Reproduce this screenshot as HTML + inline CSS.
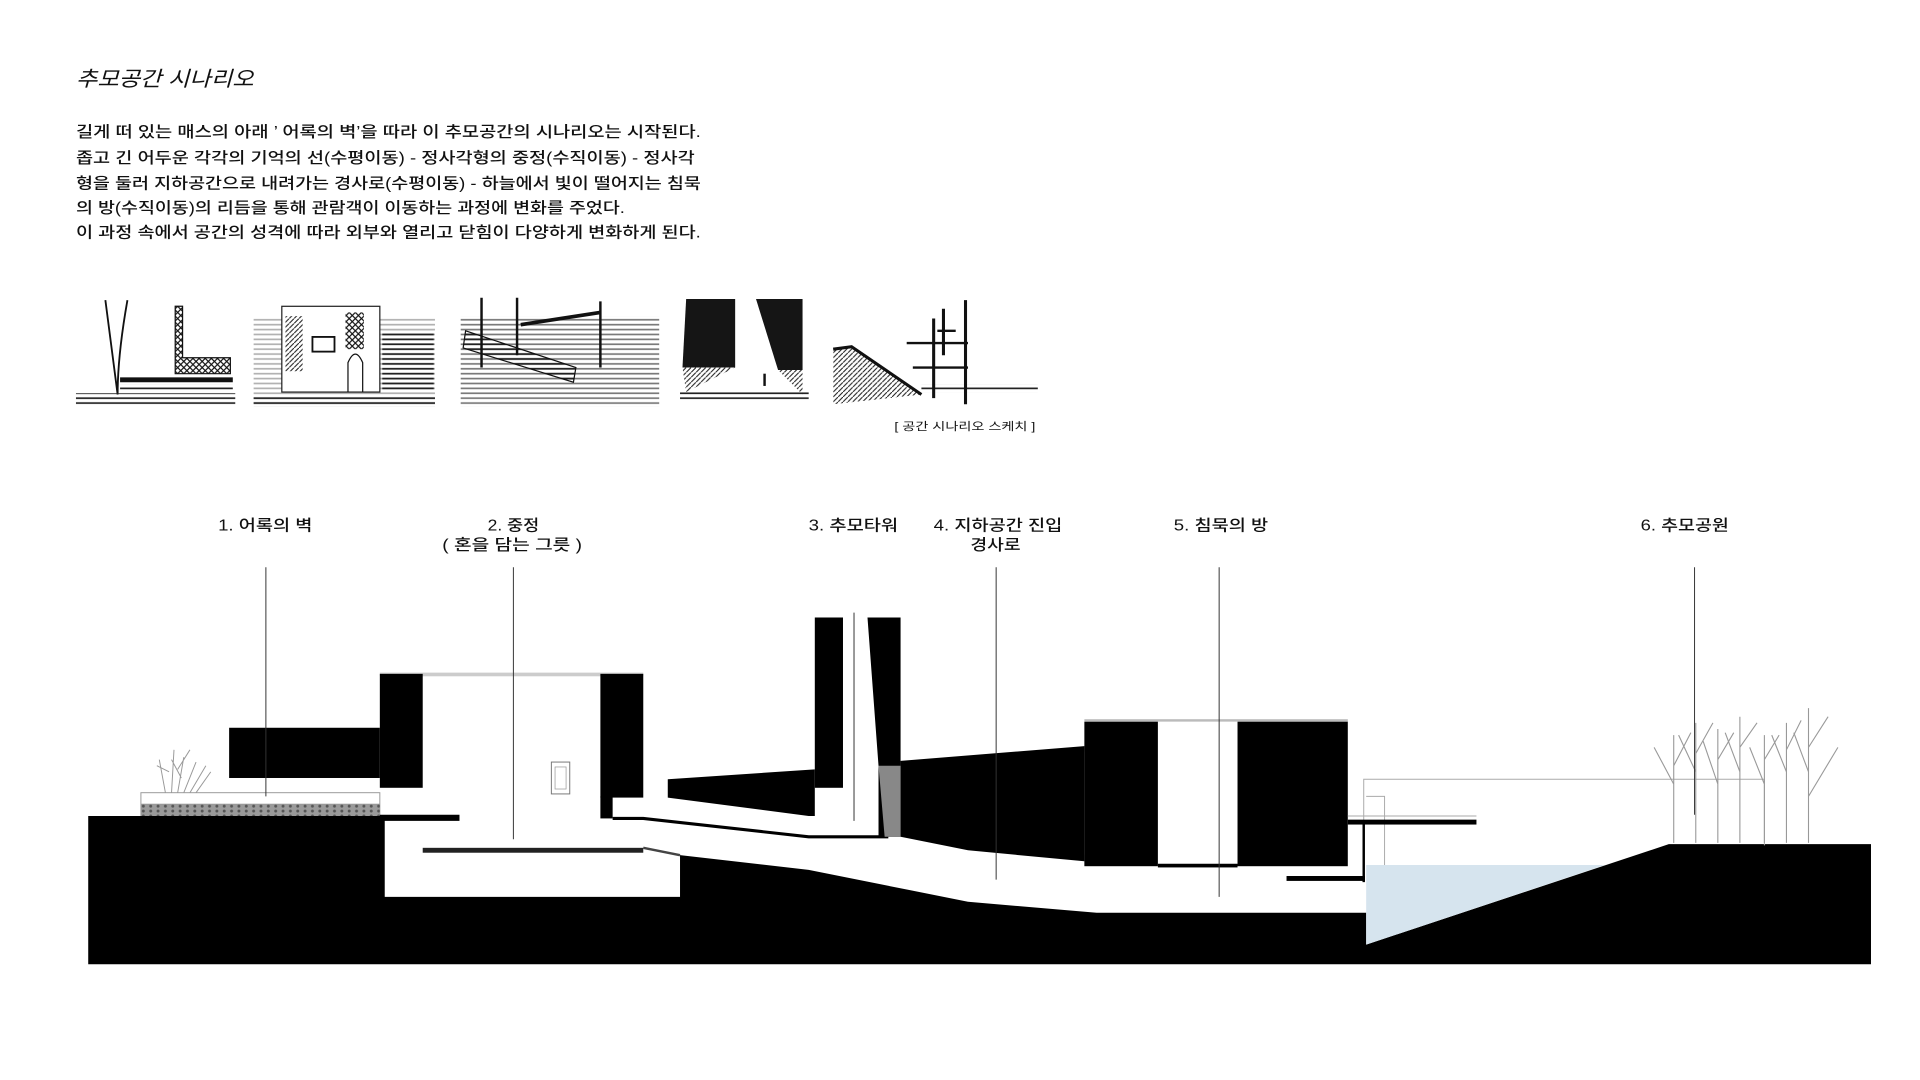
<!DOCTYPE html>
<html><head><meta charset="utf-8"><style>
html,body{margin:0;padding:0;background:#fff;width:1920px;height:1080px;overflow:hidden}
svg{display:block}
text{font-family:"Liberation Sans","Noto Sans CJK KR","NanumGothic",sans-serif;fill:#111}
</style></head><body>
<svg width="1920" height="1080" viewBox="0 0 1567 881.5" preserveAspectRatio="none" xmlns="http://www.w3.org/2000/svg">
<defs>
<pattern id="x" width="5" height="5" patternUnits="userSpaceOnUse"><path d="M0 0L5 5M5 0L0 5" stroke="#111" stroke-width="1"/></pattern>
<pattern id="h" width="4" height="4" patternUnits="userSpaceOnUse"><path d="M0 1H4" stroke="#222" stroke-width="1.4"/></pattern>
<pattern id="d" width="4" height="4" patternUnits="userSpaceOnUse"><path d="M0 4L4 0" stroke="#222" stroke-width="0.9"/></pattern>
<pattern id="g" width="6" height="4" patternUnits="userSpaceOnUse"><rect width="6" height="4" fill="#9a9a9a"/><circle cx="3" cy="2" r="1.2" fill="#555"/></pattern>
</defs>

<text x="62" y="70" font-size="17" font-style="italic" textLength="145" lengthAdjust="spacingAndGlyphs">추모공간 시나리오</text>
<g font-size="12.5" font-weight="bold" style="font-weight:500">
<text x="62" y="112" textLength="510" lengthAdjust="spacingAndGlyphs">길게 떠 있는 매스의 아래 ’ 어록의 벽’을 따라 이 추모공간의 시나리오는 시작된다.</text>
<text x="62" y="133" textLength="505" lengthAdjust="spacingAndGlyphs">좁고 긴 어두운 각각의 기억의 선(수평이동) - 정사각형의 중정(수직이동) - 정사각</text>
<text x="62" y="154" textLength="510" lengthAdjust="spacingAndGlyphs">형을 둘러 지하공간으로 내려가는 경사로(수평이동) - 하늘에서 빛이 떨어지는 침묵</text>
<text x="62" y="174" textLength="448" lengthAdjust="spacingAndGlyphs">의 방(수직이동)의 리듬을 통해 관람객이 이동하는 과정에 변화를 주었다.</text>
<text x="62" y="194" textLength="510" lengthAdjust="spacingAndGlyphs">이 과정 속에서 공간의 성격에 따라 외부와 열리고 닫힘이 다양하게 변화하게 된다.</text>
</g>

<g>
<path d="M86 245 Q92 290 96 322 M104 245 Q96 290 96 322" stroke="#111" stroke-width="1.5" fill="none"/>
<path d="M143 250 H149 V292 H188 V305 H143 Z" fill="url(#x)" stroke="#111"/>
<rect x="98" y="308" width="92" height="4" fill="#111"/>
<rect x="98" y="314" width="92" height="6" fill="url(#h)"/>
<rect x="62" y="321" width="130" height="9" fill="url(#h)"/>
<rect x="207" y="260" width="148" height="72" fill="url(#h)" opacity="0.35"/>
<rect x="230" y="250" width="80" height="70" fill="#fff" stroke="#222"/>
<rect x="233" y="258" width="14" height="45" fill="url(#d)"/>
<rect x="282" y="255" width="15" height="30" fill="url(#x)"/>
<rect x="255" y="275" width="18" height="12" fill="none" stroke="#111" stroke-width="1.5"/>
<path d="M284 320 V296 Q290 282 296 296 V320" fill="none" stroke="#111"/>
<rect x="312" y="270" width="42" height="50" fill="url(#h)"/>
<rect x="207" y="322" width="148" height="10" fill="url(#h)"/>
<rect x="376" y="258" width="162" height="74" fill="url(#h)" opacity="0.6"/>
<path d="M380 270 L470 300 L468 312 L378 284 Z" fill="url(#h)" stroke="#111"/>
<path d="M393 243 V300 M422 243 V290 M490 246 V300" stroke="#111" stroke-width="2"/>
<path d="M425 265 L490 255" stroke="#111" stroke-width="3"/>
<path d="M560 244 H600 L600 300 H557 Z" fill="#151515"/>
<path d="M617 244 H655 V302 H635 Z" fill="#151515"/>
<path d="M557 300 H600 L560 320 Z M635 302 H655 V322 Z" fill="url(#d)"/>
<rect x="555" y="320" width="105" height="6" fill="url(#h)"/>
<path d="M624 315 V305" stroke="#111" stroke-width="2"/>
<path d="M680 285 L695 283 L752 322 L680 330 Z" fill="url(#d)"/>
<path d="M680 285 L695 283 L752 322" stroke="#111" stroke-width="2.5" fill="none"/>
<rect x="752" y="314" width="95" height="6" fill="url(#h)"/>
<path d="M762 260 V325 M770 252 V290 M788 245 V330" stroke="#111" stroke-width="2.5"/>
<path d="M740 280 H790 M745 300 H790 M765 270 H780" stroke="#111" stroke-width="2"/>
</g>
<text x="730" y="351" font-size="9" textLength="115" lengthAdjust="spacingAndGlyphs">[ 공간 시나리오 스케치 ]</text>

<g font-size="12.5" style="font-weight:500">
<text x="178" y="433" textLength="77" lengthAdjust="spacingAndGlyphs">1. 어록의 벽</text>
<text x="398" y="433" textLength="42" lengthAdjust="spacingAndGlyphs">2. 중정</text>
<text x="361" y="449" textLength="114" lengthAdjust="spacingAndGlyphs">( 혼을 담는 그릇 )</text>
<text x="660" y="433" textLength="73" lengthAdjust="spacingAndGlyphs">3. 추모타워</text>
<text x="762" y="433" textLength="105" lengthAdjust="spacingAndGlyphs">4. 지하공간 진입</text>
<text x="792" y="449" textLength="41" lengthAdjust="spacingAndGlyphs">경사로</text>
<text x="958" y="433" textLength="77" lengthAdjust="spacingAndGlyphs">5. 침묵의 방</text>
<text x="1339" y="433" textLength="72" lengthAdjust="spacingAndGlyphs">6. 추모공원</text>
</g>

<g stroke="#999" stroke-width="0.8" fill="none">
<path d="M135 647 L130 620 M140 647 L142 612 M145 647 L150 618 M150 647 L160 622 M155 647 L168 625 M160 647 L172 630 M138 630 L128 625 M145 628 L155 612 M148 635 L140 620"/>
</g>
<rect x="115" y="647" width="195" height="19" fill="#fff" stroke="#999" stroke-width="0.8"/>
<rect x="115" y="656" width="195" height="10" fill="url(#g)"/>
<path d="M72 666 H314 V732 H555 V698 L660 710 L790 736 L895 745 H1115 V771 L1362 689 H1527 V787 H72 Z" fill="#000"/>
<path d="M1115 706 H1310 L1115 771 Z" fill="#d6e4ee"/>
<rect x="310" y="665" width="65" height="5" fill="#000"/>
<rect x="345" y="692" width="180" height="4" fill="#222"/>
<path d="M525 692 L555 698" stroke="#444" stroke-width="2"/>
<rect x="187" y="594" width="123" height="41" fill="#000"/>
<rect x="310" y="549" width="215" height="3" fill="#ccc"/>
<rect x="310" y="550" width="35" height="93" fill="#000"/>
<rect x="490" y="550" width="35" height="101" fill="#000"/>
<rect x="490" y="650" width="10" height="18" fill="#000"/>
<rect x="450" y="622" width="15" height="26" fill="none" stroke="#777" stroke-width="0.8"/>
<rect x="453" y="626" width="9" height="18" fill="none" stroke="#999" stroke-width="0.6"/>
<path d="M500 668 H525 L660 683 H725" stroke="#000" stroke-width="2.5" fill="none"/>
<path d="M545 636 L665 628 V666 H660 L545 651 Z" fill="#000"/>
<rect x="665" y="504" width="23" height="139" fill="#000"/>
<path d="M708 504 H735 V683 H717 L717 625 L708 504 Z" fill="#000"/>
<path d="M717 625 H735 V683 H722 Z" fill="#888"/>
<path d="M735 621 L885 609 V703 L790 694 L735 683 Z" fill="#000"/>
<rect x="885" y="589" width="60" height="118" fill="#000"/>
<rect x="1010" y="589" width="90" height="118" fill="#000"/>
<rect x="945" y="705" width="65" height="3" fill="#000"/>
<rect x="885" y="587" width="215" height="2" fill="#bbb"/>
<g stroke="#aaa" stroke-width="0.8" fill="none">
<path d="M1113 706 V636 H1440 V690"/>
<path d="M1100 666 H1205 M1115 650 H1130 V706"/>
</g>
<rect x="1100" y="669" width="105" height="4" fill="#000"/>
<rect x="1112" y="670" width="2" height="50" fill="#000"/>
<rect x="1050" y="715" width="64" height="4" fill="#000"/>
<g stroke="#999" stroke-width="0.9" fill="none">
<path d="M1366 688 V600 M1366 640 L1350 610 M1366 625 L1380 598"/>
<path d="M1384 688 V590 M1384 630 L1370 600 M1384 615 L1398 590"/>
<path d="M1402 688 V595 M1402 640 L1390 605 M1402 620 L1415 598"/>
<path d="M1420 688 V585 M1420 630 L1408 598 M1420 610 L1434 590"/>
<path d="M1440 688 V600 M1440 640 L1428 610 M1440 620 L1452 600"/>
<path d="M1458 688 V590 M1458 630 L1446 600 M1458 612 L1470 588"/>
<path d="M1476 688 V578 M1476 630 L1464 598 M1476 610 L1492 585 M1476 650 L1500 610"/>
</g>
<g stroke="#333" stroke-width="0.8">
<path d="M217 463 V650 M419 463 V685 M697 500 V670 M813 463 V718 M995 463 V732 M1383 463 V665"/>
</g>
</svg>
</body></html>
